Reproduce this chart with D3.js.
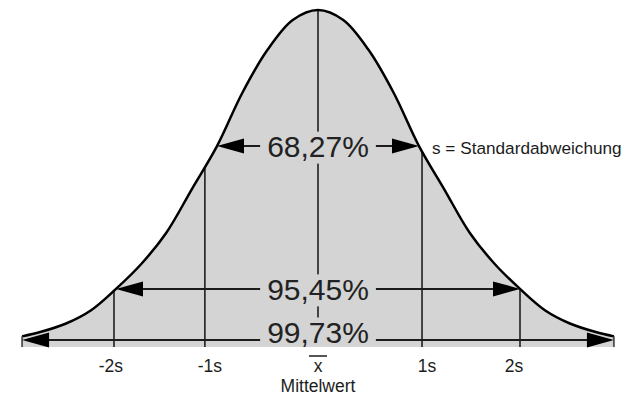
<!DOCTYPE html>
<html><head><meta charset="utf-8">
<script src="https://cdn.jsdelivr.net/npm/d3@7"></script>
<style>html,body{margin:0;padding:0;background:#fff;} svg{display:block;}</style>
</head><body><svg id="c" width="637" height="396"></svg>
<script>
// ---- data ----
const curveZ = [-2.93,-2.75,-2.5,-2.25,-2,-1.75,-1.5,-1.25,-1,-0.75,-0.5,-0.25,0,0.25,0.5,0.75,1,1.25,1.5,1.75,2,2.25,2.5,2.75,2.93];
const curveDensity = [0.017,0.03,0.055,0.095,0.16,0.235,0.33,0.46,0.59,0.75,0.88,0.97,1,0.97,0.88,0.75,0.59,0.46,0.33,0.235,0.16,0.095,0.055,0.03,0.017];
const sigmaLineZ = [-2.02, -1.12, 0, 1.03, 2.0];
const tickLabels = ["-2s", "-1s", "x", "1s", "2s"];
const tickLabelZ = [-2.05, -1.07, 0, 1.08, 1.94];
const spanLabels = ["68,27%", "95,45%", "99,73%"];
const spanHalfZ = [1, 2, 2.93];
const spanLevel = [0.59, 0.16, 0.006];
const meanLabel = "Mittelwert";
const sdNote = "s = Standardabweichung";

// ---- layout ----
const x = d3.scaleLinear().domain([-3, 3]).range([15, 621]);
const y = d3.scaleLinear().domain([0, 1]).range([342, 10]);
const floorY = 347;
const font = "'Liberation Sans', Arial, sans-serif";
const ink = "#1c1c1c";
const fillGray = "#d4d4d4";
const spanTextDy = [11, 11, 3];

const svg = d3.select("#c");
const pts = curveZ.map((z, i) => [z, curveDensity[i]]);
const area = d3.area().x(d => x(d[0])).y1(d => y(d[1])).y0(floorY).curve(d3.curveCatmullRom);
const line = d3.line().x(d => x(d[0])).y(d => y(d[1])).curve(d3.curveCatmullRom);

svg.append("defs").append("clipPath").attr("id", "clip")
  .append("path").attr("d", area(pts));

svg.append("path").attr("d", area(pts)).attr("fill", fillGray);

const g = svg.append("g").attr("clip-path", "url(#clip)");
g.selectAll("line.v").data(sigmaLineZ).join("line").attr("class", "v")
  .attr("x1", d => x(d)).attr("x2", d => x(d))
  .attr("y1", floorY).attr("y2", 0)
  .attr("stroke", "#2a2a2a").attr("stroke-width", 1.7);

// span arrows
const arrowLen = 27, arrowHalf = 7.5;
spanLabels.forEach((lab, i) => {
  const xl = x(-spanHalfZ[i]), xr = x(spanHalfZ[i]), yy = y(spanLevel[i]);
  svg.append("line").attr("x1", xl + 5).attr("x2", xr - 5).attr("y1", yy).attr("y2", yy)
    .attr("stroke", ink).attr("stroke-width", 2);
  svg.append("path").attr("d", `M${xl},${yy}L${xl + arrowLen},${yy - arrowHalf}L${xl + arrowLen},${yy + arrowHalf}Z`).attr("fill", "#000");
  svg.append("path").attr("d", `M${xr},${yy}L${xr - arrowLen},${yy - arrowHalf}L${xr - arrowLen},${yy + arrowHalf}Z`).attr("fill", "#000");
});

// span labels with backgrounds
const lg = svg.append("g");
spanLabels.forEach((lab, i) => {
  const yy = y(spanLevel[i]);
  const t = lg.append("text").attr("x", x(0)).attr("y", yy + spanTextDy[i])
    .attr("text-anchor", "middle").attr("font-family", font).attr("font-size", 30)
    .attr("fill", "#222").text(lab);
  const b = t.node().getBBox();
  lg.insert("rect", "text").attr("x", b.x - 7).attr("y", b.y + 1.5)
    .attr("width", b.width + 14).attr("height", b.height - 1)
    .attr("fill", fillGray).attr("clip-path", "url(#clip)");
});

// curve outline
svg.append("path").attr("d", line(pts)).attr("fill", "none").attr("stroke", "#000").attr("stroke-width", 2.5);
[0, curveZ.length - 1].forEach(i => {
  svg.append("line").attr("x1", x(curveZ[i])).attr("x2", x(curveZ[i]))
    .attr("y1", y(curveDensity[i])).attr("y2", floorY)
    .attr("stroke", "#333").attr("stroke-width", 1.5);
});

// tick labels
svg.selectAll("text.tick").data(tickLabels).join("text").attr("class", "tick")
  .attr("x", (d, i) => x(tickLabelZ[i])).attr("y", 372)
  .attr("text-anchor", "middle").attr("font-family", font).attr("font-size", 17.5)
  .attr("fill", ink).text(d => d);
// overline for mean symbol
svg.append("line").attr("x1", x(0) - 9).attr("x2", x(0) + 9).attr("y1", 356).attr("y2", 356)
  .attr("stroke", ink).attr("stroke-width", 1.5);
svg.append("text").attr("x", x(0)).attr("y", 391.5).attr("text-anchor", "middle")
  .attr("font-family", font).attr("font-size", 17.5).attr("fill", ink).text(meanLabel);

// sd note
svg.append("text").attr("x", x(1) + 13).attr("y", y(spanLevel[0]) + 8)
  .attr("font-family", font).attr("font-size", 17.2).attr("fill", ink).text(sdNote);
</script></body></html>
